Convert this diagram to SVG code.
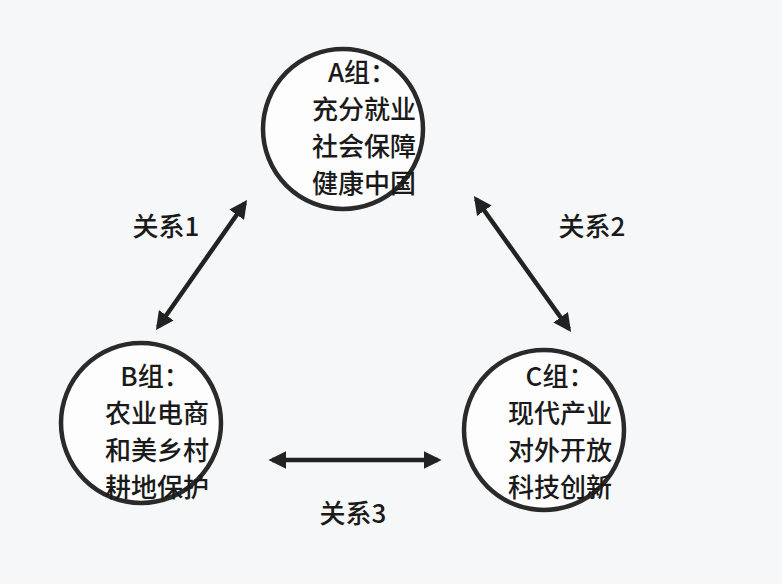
<svg xmlns="http://www.w3.org/2000/svg" width="782" height="584" viewBox="0 0 782 584">
<style>
.c{fill:#fdfdfd;stroke:#2a2a2a;stroke-width:4.5}
.t{font-family:"Noto Sans CJK SC","Liberation Sans",sans-serif;font-size:26px;font-weight:500;fill:#1a1a1a;text-anchor:middle}
.l{stroke:#222;stroke-width:4.5;marker-start:url(#a);marker-end:url(#a)}
</style>
<defs><marker id="a" viewBox="0 0 10 10" refX="8" refY="5" markerWidth="4" markerHeight="4" orient="auto-start-reverse"><path d="M0,0L10,5L0,10z" fill="#222"/></marker></defs>
<rect width="782" height="584" fill="#f6f7f8"/>
<g id="A"><circle class="c" cx="343" cy="129" r="80"/>
<text class="t" x="362" y="82">A组：</text><text class="t" x="364" y="119">充分就业</text><text class="t" x="364" y="156">社会保障</text><text class="t" x="364" y="193">健康中国</text></g>
<g id="B"><circle class="c" cx="141" cy="423" r="80"/>
<text class="t" x="155" y="386">B组：</text><text class="t" x="157" y="423">农业电商</text><text class="t" x="157" y="460">和美乡村</text><text class="t" x="157" y="497">耕地保护</text></g>
<g id="C"><circle class="c" cx="544" cy="430" r="80"/>
<text class="t" x="560" y="386">C组：</text><text class="t" x="560" y="423">现代产业</text><text class="t" x="560" y="460">对外开放</text><text class="t" x="560" y="497">科技创新</text></g>
<g id="connectors">
<line class="l" x1="245" y1="203" x2="158" y2="327"/>
<line class="l" x1="476" y1="199" x2="569" y2="329"/>
<line class="l" x1="272" y1="460" x2="438" y2="460"/>
<text class="t" x="166" y="236">关系1</text>
<text class="t" x="592" y="236">关系2</text>
<text class="t" x="353" y="523">关系3</text>
</g>
</svg>
